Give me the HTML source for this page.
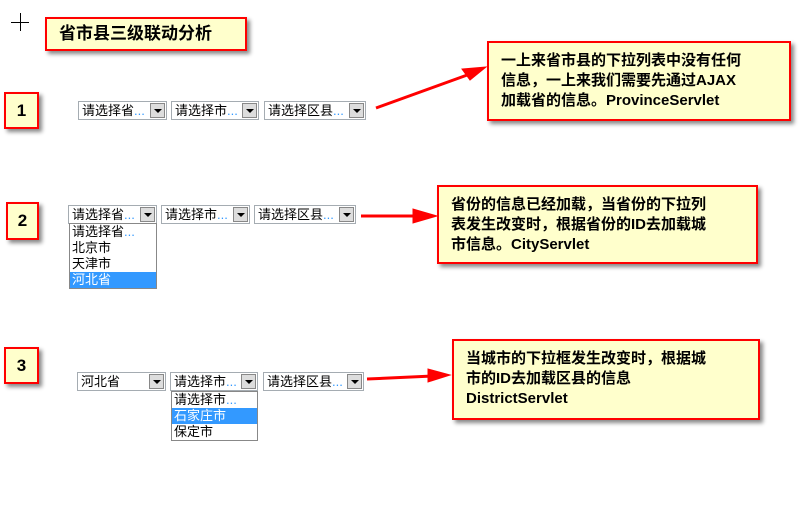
<!DOCTYPE html>
<html><head><meta charset="utf-8"><style>
body{margin:0;width:803px;height:510px;background:#fff;position:relative;overflow:hidden;font-family:"Liberation Sans","Noto Sans CJK SC",sans-serif}
.b{position:absolute;background:#ffffcc;border:2px solid #f00;box-shadow:3px 3px 4px #888;box-sizing:border-box;font-weight:bold;color:#000}
.n{font-size:17px;text-align:center}
.c{font-size:15px;line-height:20px;padding:8px 0 0 12px}
.s{position:absolute;height:19px;border:1px solid #a5acb2;box-sizing:border-box;background:#fff;font-size:13px;line-height:17px;padding-left:3px;white-space:nowrap}
.s i{position:absolute;right:1px;top:1px;width:15px;height:15px;background:#ddd;border:1px solid #888;box-sizing:border-box}
.s i:after{content:"";position:absolute;left:3px;top:5px;border-left:4px solid transparent;border-right:4px solid transparent;border-top:4px solid #000}
.d{color:#39f}
.l{position:absolute;border:1px solid #888;background:#fff;font-size:13px;line-height:16px;box-sizing:border-box}
.l div{padding-left:2px}
.h{background:#3399ff;color:#fff}
</style></head><body>
<div style="position:absolute;left:11px;top:22px;width:18px;height:1px;background:#000"></div>
<div style="position:absolute;left:20px;top:13px;width:1px;height:18px;background:#000"></div>
<div class="b" style="left:45px;top:17px;width:202px;height:34px;font-size:17px;line-height:30px;padding-left:12px">省市县三级联动分析</div>

<div class="b n" style="left:4px;top:92px;width:35px;height:37px;line-height:33px">1</div>
<div class="b n" style="left:6px;top:202px;width:33px;height:38px;line-height:34px">2</div>
<div class="b n" style="left:4px;top:347px;width:35px;height:37px;line-height:33px">3</div>

<div class="s" style="left:78px;top:101px;width:89px">请选择省<span class="d">...</span><i></i></div>
<div class="s" style="left:171px;top:101px;width:88px">请选择市<span class="d">...</span><i></i></div>
<div class="s" style="left:264px;top:101px;width:102px">请选择区县<span class="d">...</span><i></i></div>

<div class="s" style="left:68px;top:205px;width:89px">请选择省<span class="d">...</span><i></i></div>
<div class="l" style="left:69px;top:223px;width:88px;height:66px"><div>请选择省<span class="d">...</span></div><div>北京市</div><div>天津市</div><div class="h">河北省</div></div>
<div class="s" style="left:161px;top:205px;width:89px">请选择市<span class="d">...</span><i></i></div>
<div class="s" style="left:254px;top:205px;width:102px">请选择区县<span class="d">...</span><i></i></div>

<div class="s" style="left:77px;top:372px;width:89px">河北省<i></i></div>
<div class="s" style="left:170px;top:372px;width:88px">请选择市<span class="d">...</span><i></i></div>
<div class="l" style="left:171px;top:391px;width:87px;height:50px"><div>请选择市<span class="d">...</span></div><div class="h">石家庄市</div><div>保定市</div></div>
<div class="s" style="left:263px;top:372px;width:101px">请选择区县<span class="d">...</span><i></i></div>

<div class="b c" style="left:487px;top:41px;width:304px;height:80px">一上来省市县的下拉列表中没有任何<br>信息，一上来我们需要先通过AJAX<br>加载省的信息。ProvinceServlet</div>
<div class="b c" style="left:437px;top:185px;width:321px;height:79px">省份的信息已经加载，当省份的下拉列<br>表发生改变时，根据省份的ID去加载城<br>市信息。CityServlet</div>
<div class="b c" style="left:452px;top:339px;width:308px;height:81px;padding-left:12px">当城市的下拉框发生改变时，根据城<br>市的ID去加载区县的信息<br>DistrictServlet</div>

<svg width="803" height="510" style="position:absolute;left:0;top:0">
<g fill="#f00" stroke="#f00" stroke-width="3">
<line x1="376" y1="108" x2="470" y2="74"/>
<polygon points="486,67 462,69 470,80" stroke-width="1"/>
<line x1="361" y1="216" x2="422" y2="216"/>
<polygon points="437,216 413,209 413,223" stroke-width="1"/>
<line x1="367" y1="379" x2="433" y2="376"/>
<polygon points="450,375 428,369 428,382" stroke-width="1"/>
</g></svg>
</body></html>
